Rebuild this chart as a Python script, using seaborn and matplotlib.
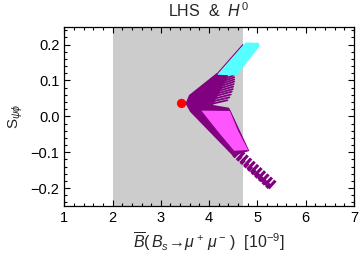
import matplotlib
matplotlib.use("Agg")
import matplotlib.pyplot as plt
import matplotlib.ticker as mticker
import seaborn as sns
import pandas as pd

# SM point
sm_x = [3.43]
sm_y = [0.036]

# experimental band
band_lo, band_hi = 2.0, 4.7

# purple body of the allowed region (both arms)
body_x = [3.53, 3.60, 4.16, 4.38, 4.05, 4.40, 4.43, 4.81, 4.50, 3.62]
body_y = [0.036, 0.058, 0.118, 0.114, 0.030, 0.022, 0.015, -0.095, -0.108, 0.014]

# cyan patch (upper arm)
cyan_x = [4.17, 4.72, 4.76, 5.03, 5.05, 4.57]
cyan_y = [0.116, 0.200, 0.206, 0.205, 0.196, 0.114]

# magenta patch (lower arm)
mag_x = [3.84, 4.43, 4.60, 4.81, 4.52, 4.20]
mag_y = [0.016, 0.015, -0.04, -0.094, -0.096, -0.045]

# streaks fanning out of the upper arm
streak_x0 = [4.06, 4.08, 4.10, 4.12, 4.15, 4.18, 4.21, 4.24, 4.27, 4.30, 4.33]
streak_y0 = [0.035, 0.042, 0.049, 0.056, 0.063, 0.070, 0.077, 0.084, 0.091, 0.098, 0.105]
streak_x1 = [4.38, 4.42, 4.45, 4.47, 4.49, 4.50, 4.51, 4.52, 4.52, 4.52, 4.50]
streak_y1 = [0.045, 0.053, 0.061, 0.069, 0.076, 0.083, 0.090, 0.097, 0.103, 0.109, 0.114]

# dotted tail of the lower arm
tail_x = [4.56, 5.35]
tail_y = [-0.099, -0.196]
tail2_x = [4.52, 5.27]
tail2_y = [-0.105, -0.199]

plt.rcParams["mathtext.fontset"] = "custom"
plt.rcParams["mathtext.rm"] = "Liberation Sans"
plt.rcParams["mathtext.it"] = "Liberation Sans:italic"
sns.set_style("ticks")
plt.rcParams["font.family"] = ["Liberation Sans", "DejaVu Sans"]

purple = "#800080"

fig = plt.figure(figsize=(3.6, 2.56), dpi=100)
ax = fig.add_axes([0.1786, 0.1953, 0.8044, 0.7004])

ax.axvspan(band_lo, band_hi, color="#cccccc", lw=0, zorder=0)

ax.fill(body_x, body_y, color=purple, lw=1.2, ec=purple, zorder=2)
for i in range(len(streak_x0)):
    ax.plot([streak_x0[i], streak_x1[i]], [streak_y0[i], streak_y1[i]],
            color=purple, lw=1.3, zorder=2, solid_capstyle="round")
ax.plot(tail_x, tail_y, color=purple, lw=7.5, zorder=2, dashes=(0.3, 0.15))
ax.plot(tail2_x, tail2_y, color=purple, lw=4, zorder=2, dashes=(0.6, 0.3))
ax.plot([cyan_x[0] - 0.02, cyan_x[1] - 0.02], [cyan_y[0], cyan_y[1]],
        color=purple, lw=0.8, zorder=2)
ax.fill(cyan_x, cyan_y, color="#55ffff", lw=0, zorder=3)
ax.fill(mag_x, mag_y, color="#ff55ff", lw=0, zorder=3)

sm = pd.DataFrame({"x": sm_x, "y": sm_y})
sns.scatterplot(data=sm, x="x", y="y", ax=ax, color="#ff0000", s=45,
                edgecolor="none", zorder=5)

ax.set_xlim(1, 7)
ax.set_ylim(-0.25, 0.25)
ax.xaxis.set_major_locator(mticker.MultipleLocator(1))
ax.xaxis.set_minor_locator(mticker.MultipleLocator(0.2))
ax.yaxis.set_major_locator(mticker.MultipleLocator(0.1))
ax.yaxis.set_minor_locator(mticker.MultipleLocator(0.02))
ax.yaxis.set_major_formatter(mticker.FuncFormatter(
    lambda v, p: ("\u2212" if v < -1e-9 else "") + "%.1f" % abs(v)))
ax.tick_params(which="both", direction="in", top=True, right=True,
               labelsize=10.5, colors="black", width=0.8)
ax.tick_params(which="major", length=4)
ax.tick_params(which="minor", length=2)
for s in ax.spines.values():
    s.set_linewidth(0.9)
    s.set_color("black")

ax.set_title(r"LHS  &  $H^{\,0}$", fontsize=11.5, pad=7)
ax.set_xlabel(r"$\overline{B}(\,B_s\!\rightarrow\!\mu^+\,\mu^-\,)$  [10$^{-9}$]",
              fontsize=11.5, labelpad=4)
ax.set_ylabel(r"$\mathrm{S}_{\psi\phi}$", fontsize=11, labelpad=4)

fig.savefig("out.png", dpi=100)
